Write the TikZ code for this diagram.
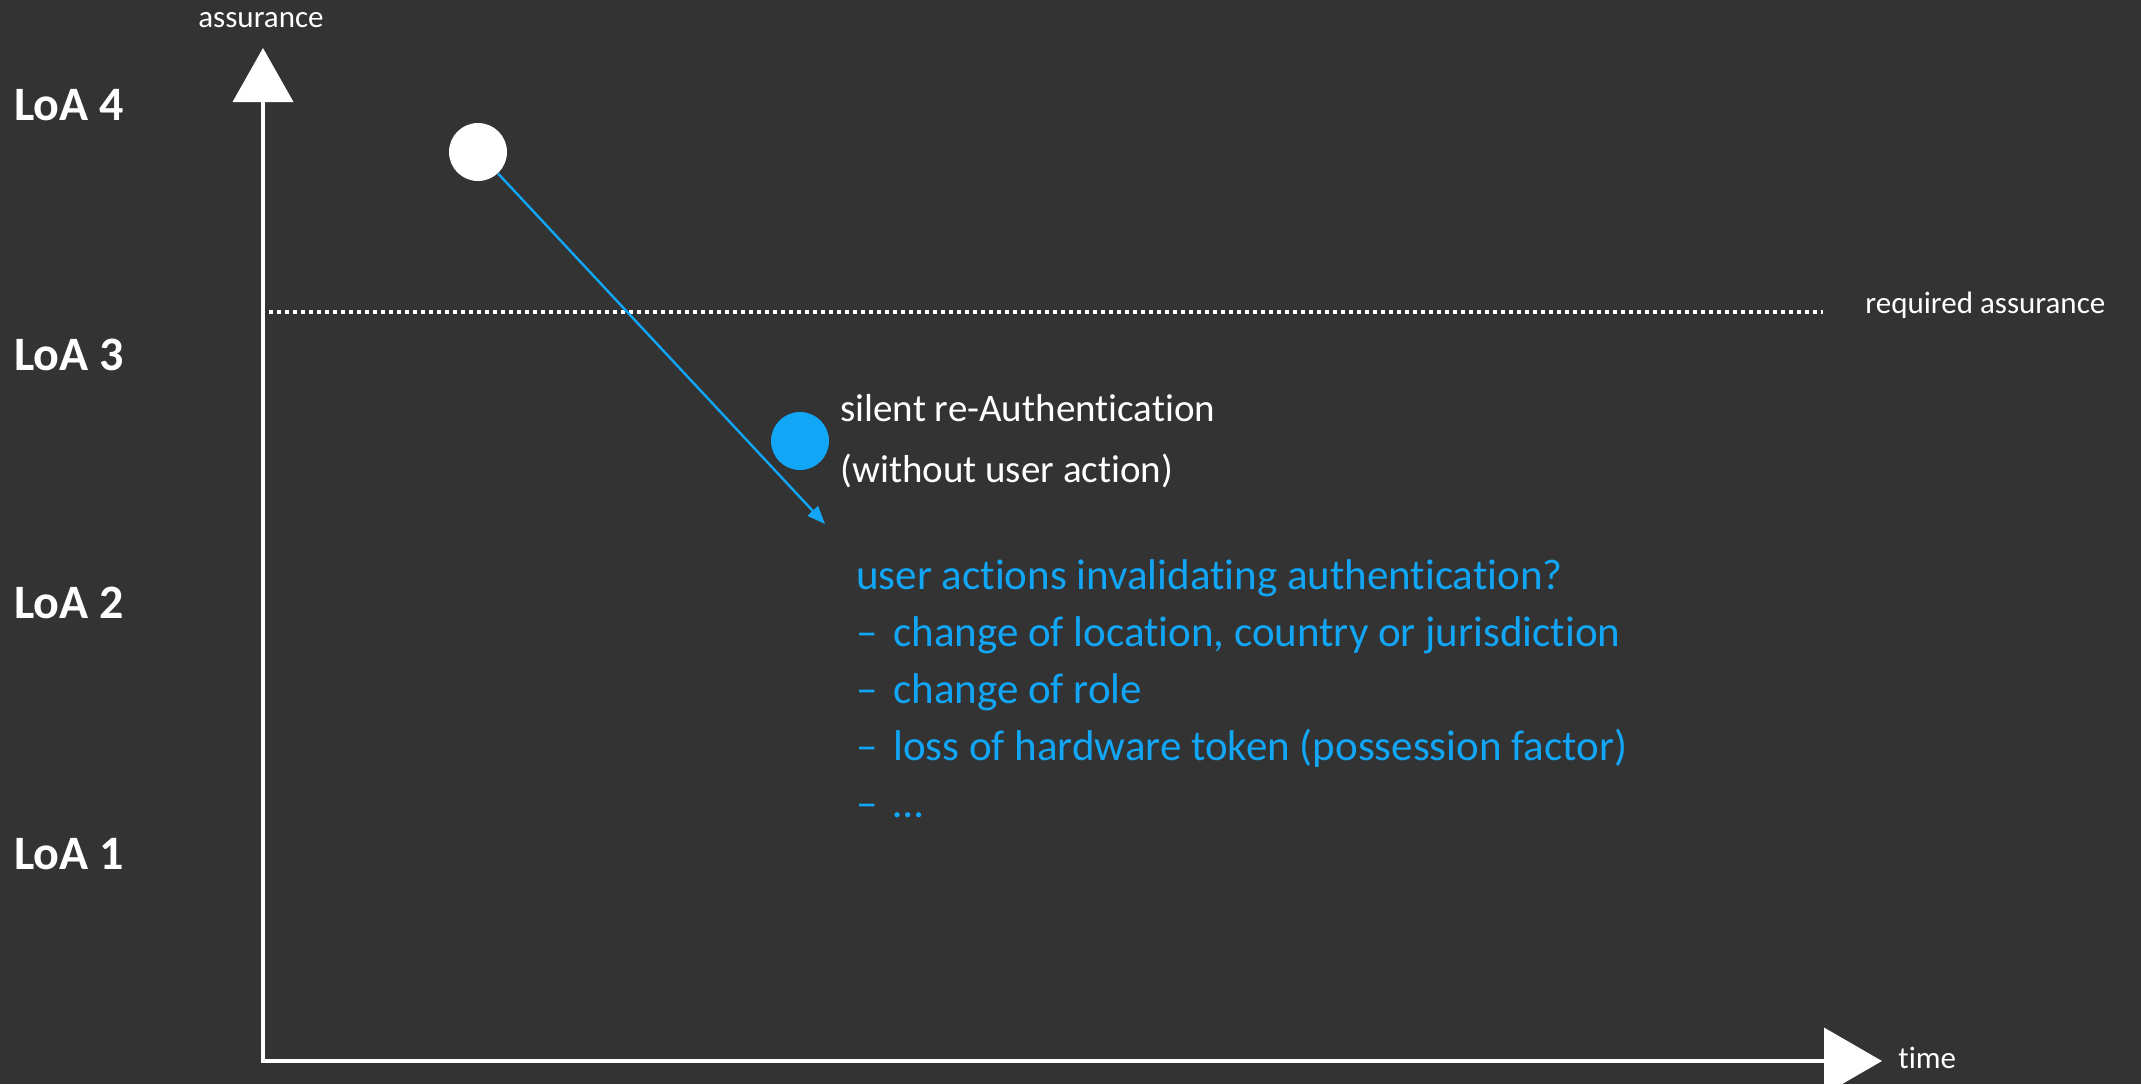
\documentclass[tikz,border=0pt]{standalone}
\usepackage{fontspec}
\setmainfont{Carlito}[Ligatures=NoCommon]
\usetikzlibrary{arrows.meta}
\definecolor{slate}{RGB}{51,51,51}
\definecolor{skyblue}{RGB}{18,166,247}
\newcommand{\itemdash}{–\hspace{0.36em}}
\begin{document}
\begin{tikzpicture}[x=0.5pt,y=-0.5pt,
  level/.style={white, anchor=base west, inner sep=0, font=\fontsize{24}{29}\selectfont\bfseries},
  small/.style={white, inner sep=0, font=\fontsize{15.5}{19}\selectfont},
  axis/.style={white, line width=2pt, {Triangle[width=30pt,length=27pt]}-{Triangle[width=33pt,length=29pt]}},
  dot/.style={circle, inner sep=0, minimum size=29pt}]
\useasboundingbox (0,0) rectangle (2141,1084);
\fill[slate] (0,0) rectangle (2141,1084);
\node[level] (loa4) at (14,120){LoA 4};
\node[level] (loa3) at (14,370){LoA 3};
\node[level] (loa2) at (14,618){LoA 2};
\node[level] (loa1) at (14,869){LoA 1};
\coordinate (ytip) at (263,48);
\coordinate (orig) at (263,1061);
\coordinate (xtip) at (1882,1061);
\draw[axis] (ytip) -- (orig) -- (xtip);
\node[small] (yname) at (261,20){assurance};
\node[small, anchor=west] (xname) at (1898,1058){time};
\coordinate (reqa) at (269,312);
\coordinate (reqb) at (1823,312);
\draw[white, line width=2pt, dash pattern=on 2pt off 2pt] (reqa) -- (reqb);
\node[small, anchor=west] (reqname) at (1865,305){required assurance};
\node[dot, fill=white] (start) at (478,152){};
\node[dot, fill=skyblue] (silent) at (800,441){};
\coordinate (drop) at (825,524);
\draw[skyblue, line width=1.2pt, -{Triangle[length=9pt,width=7pt]}] (start) -- (drop);
% base anchor sits on the last line
\node[white, anchor=base west, inner sep=0, align=left, font=\fontsize{19.5}{30.5}\selectfont] (silentname) at (840,482){silent re-Authentication\\(without user action)};
\node[skyblue, anchor=base west, inner sep=0, align=left, font=\fontsize{21.5}{28.5}\selectfont] (actions) at (856,817){user actions invalidating authentication?\\\itemdash change of location, country or jurisdiction\\\itemdash change of role\\\itemdash loss of hardware token (possession factor)\\\itemdash …};
\end{tikzpicture}
\end{document}
